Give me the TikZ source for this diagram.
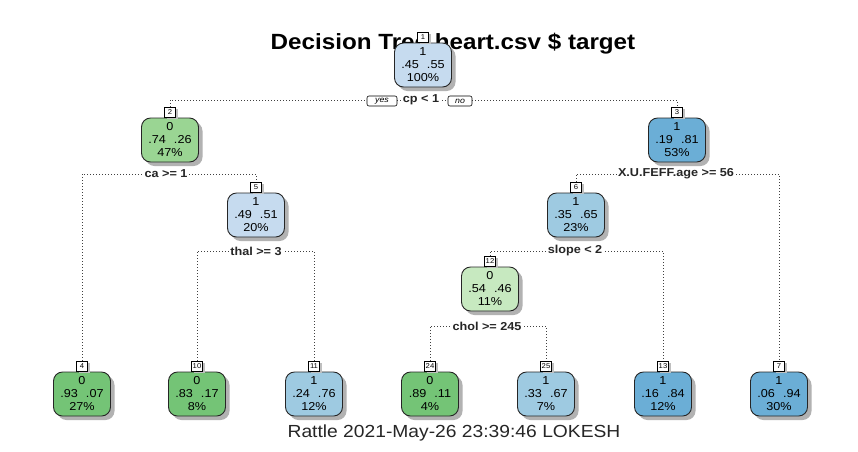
\documentclass[tikz,border=0pt]{standalone}
\usepackage{fontspec}
\setmainfont{Liberation Sans}[FakeStretch=1.1]
\usetikzlibrary{shadows}
\definecolor{blueA}{HTML}{C6DBEF}
\definecolor{blueB}{HTML}{9ECAE1}
\definecolor{blueC}{HTML}{6BAED6}
\definecolor{greenA}{HTML}{C7E9C0}
\definecolor{greenB}{HTML}{9AD593}
\definecolor{greenC}{HTML}{74C476}
\newcommand\probs[2]{#1\hspace{8pt}#2}
\begin{document}
\begin{tikzpicture}[x=1pt,y=-1pt,
  tnode/.style={draw=black!85, line width=0.9pt, rounded corners=9pt, minimum width=57pt, minimum height=44pt, inner sep=0pt, align=center, font=\fontsize{11.5}{13}\selectfont, drop shadow={shadow xshift=4pt, shadow yshift=-4pt, fill=black!30, opacity=1}},
  numbox/.style={draw=black, line width=0.6pt, fill=white, minimum width=11pt, minimum height=10pt, inner sep=1pt, font=\fontsize{7}{7}\selectfont, anchor=south, drop shadow={shadow xshift=2pt, shadow yshift=-2pt, fill=black!25, opacity=1}},
  conn/.style={draw=black!75, line width=0.9pt, dash pattern=on 0.9pt off 2.1pt},
  splitlab/.style={fill=white, inner sep=1.5pt, font=\bfseries\fontsize{11.5}{12}\selectfont, text=black!85},
  yn/.style={draw=black, line width=0.6pt, fill=white, rounded corners=2pt, minimum height=10pt, inner sep=0.5pt, font=\itshape\fontsize{8}{8}\selectfont}
]
\useasboundingbox (0,0) rectangle (858,451);
\fill[white] (0,0) rectangle (858,451);
\node[anchor=base, font=\bfseries\fontsize{22}{24}\selectfont] (title) at (453,49) {Decision Tree heart.csv \$ target};
\node[anchor=base, font=\fontsize{17.5}{20}\selectfont, text=black!85] (footer) at (454,437) {Rattle 2021-May-26 23:39:46 LOKESH};

% tree nodes
\node[tnode, fill=blueA]  (n1)  at (423,65)  {1\\\probs{.45}{.55}\\100\%};
\node[tnode, fill=greenB] (n2)  at (170,140) {0\\\probs{.74}{.26}\\47\%};
\node[tnode, fill=blueC]  (n3)  at (677,140) {1\\\probs{.19}{.81}\\53\%};
\node[tnode, fill=blueA]  (n5)  at (256,215) {1\\\probs{.49}{.51}\\20\%};
\node[tnode, fill=blueB]  (n6)  at (576,215) {1\\\probs{.35}{.65}\\23\%};
\node[tnode, fill=greenA] (n12) at (490,289) {0\\\probs{.54}{.46}\\11\%};
\node[tnode, fill=greenC] (n4)  at (82,394)  {0\\\probs{.93}{.07}\\27\%};
\node[tnode, fill=greenC] (n10) at (197,394) {0\\\probs{.83}{.17}\\8\%};
\node[tnode, fill=blueB]  (n11) at (314,394) {1\\\probs{.24}{.76}\\12\%};
\node[tnode, fill=greenC] (n24) at (430,394) {0\\\probs{.89}{.11}\\4\%};
\node[tnode, fill=blueB]  (n25) at (546,394) {1\\\probs{.33}{.67}\\7\%};
\node[tnode, fill=blueC]  (n13) at (663,394) {1\\\probs{.16}{.84}\\12\%};
\node[tnode, fill=blueC]  (n7)  at (779,394) {1\\\probs{.06}{.94}\\30\%};

% node number boxes
\node[numbox] (l1)  at (n1.north)  {1};
\node[numbox] (l2)  at (n2.north)  {2};
\node[numbox] (l3)  at (n3.north)  {3};
\node[numbox] (l5)  at (n5.north)  {5};
\node[numbox] (l6)  at (n6.north)  {6};
\node[numbox] (l12) at (n12.north) {12};
\node[numbox] (l4)  at (n4.north)  {4};
\node[numbox] (l10) at (n10.north) {10};
\node[numbox] (l11) at (n11.north) {11};
\node[numbox] (l24) at (n24.north) {24};
\node[numbox] (l25) at (n25.north) {25};
\node[numbox] (l13) at (n13.north) {13};
\node[numbox] (l7)  at (n7.north)  {7};

% split lines
\coordinate (s1)  at (423,100);
\coordinate (s2)  at (170,174);
\coordinate (s3)  at (677,174);
\coordinate (s5)  at (256,251);
\coordinate (s6)  at (576,251);
\coordinate (s12) at (490,326);
\draw[conn] (l2.north)  |- (s1)  -| (l3.north);
\draw[conn] (l4.north)  |- (s2)  -| (l5.north);
\draw[conn] (l6.north)  |- (s3)  -| (l7.north);
\draw[conn] (l10.north) |- (s5)  -| (l11.north);
\draw[conn] (l12.north) |- (s6)  -| (l13.north);
\draw[conn] (l24.north) |- (s12) -| (l25.north);

% split labels
\node[splitlab] (t1)  at (421,100) {cp < 1};
\node[yn, minimum width=30pt] (yes) at (382,101) {yes};
\node[yn, minimum width=24pt] (no)  at (460,101) {no};
\node[splitlab] (t2)  at (166,174) {ca >= 1};
\node[splitlab] (t3)  at (676,174) {X.U.FEFF.age >= 56};
\node[splitlab] (t5)  at (256,251) {thal >= 3};
\node[splitlab] (t6)  at (575,251) {slope < 2};
\node[splitlab] (t12) at (487,326) {chol >= 245};
\end{tikzpicture}
\end{document}
